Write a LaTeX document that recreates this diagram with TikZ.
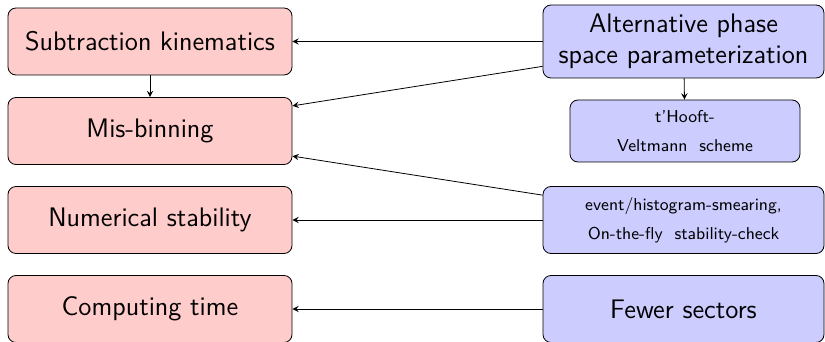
\documentclass[tikz,border=0pt]{standalone}
\usepackage{tikz}

\tikzset{
	issue/.style = {draw, rounded corners=4pt, fill=red!20, minimum width=142pt, minimum height=33.5pt, font=\sffamily\fontsize{13.4}{15.5}\selectfont, align=center},
	remedy/.style = {draw, rounded corners=4pt, fill=blue!20, minimum width=140.5pt, minimum height=33.5pt, font=\sffamily\fontsize{13.4}{15.5}\selectfont, align=center},
	remedysmall/.style = {remedy, font=\sffamily\fontsize{8.6}{9.5}\selectfont}
}

\begin{document}
\begin{tikzpicture}[x = 0.5pt, y = -0.5pt]
	
		\useasboundingbox (0, 0) rectangle (825, 342);
		
		% problems
		\node[issue] (kin) at (150, 41.5) {Subtraction kinematics};
		\node[issue] (bin) at (150, 131) {Mis-binning};
		\node[issue] (stab) at (150, 220) {Numerical stability};
		\node[issue] (time) at (150, 309) {Computing time};
		
		% solutions
		\node[remedy, minimum height=36.5pt] (alt) at (683.5, 41.5) {Alternative phase\\space parameterization};
		\node[remedysmall, minimum width=115pt, minimum height=31pt] (thv) at (685, 131) {t'Hooft-\\[5pt]Veltmann\ \ scheme};
		\node[remedysmall] (smear) at (683.5, 220) {event/histogram-smearing,\\[5pt]On-the-fly\ \ stability-check};
		\node[remedy] (sec) at (683.5, 309) {Fewer sectors};
		
		\draw[-stealth] (kin) -- (bin);
		\draw[-stealth] (alt) -- (thv);
		\draw[-stealth] (alt.west) -- (kin.east);
		\draw[-stealth] (alt.190) -- (bin.10);
		\draw[-stealth] (smear.170) -- (bin.-10);
		\draw[-stealth] (smear.west) -- (stab.east);
		\draw[-stealth] (sec.west) -- (time.east);
		
	\end{tikzpicture}
\end{document}
